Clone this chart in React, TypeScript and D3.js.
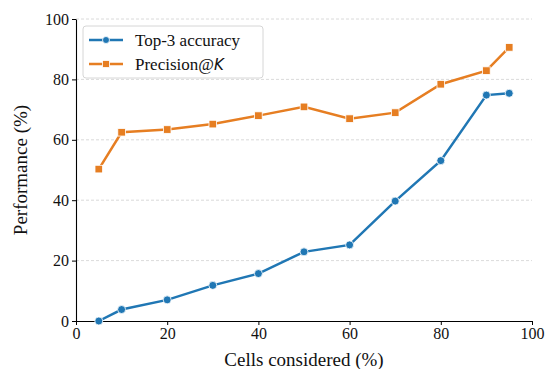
import { useEffect, useRef } from 'react';
import * as d3 from 'd3';

const cells = [5, 10, 20, 30, 40, 50, 60, 70, 80, 90, 95];
const top3Accuracy = [0, 3.8, 7, 11.8, 15.7, 22.9, 25.2, 39.7, 53.1, 74.8, 75.4];
const precisionAtK = [50.3, 62.5, 63.4, 65.2, 68, 70.9, 67, 69, 78.4, 82.9, 90.6];
const xTicks = [0, 20, 40, 60, 80, 100];
const yTicks = [0, 20, 40, 60, 80, 100];

const BLUE = '#2077b4';
const ORANGE = '#e67e22';
const FONT = 'Liberation Serif';

export default function App() {
    const svgRef = useRef<SVGSVGElement>(null);

    useEffect(() => {
        if (!svgRef.current) return;
        const root = d3.select(svgRef.current);
        root.selectAll('*').remove();

        const margin = { top: 19, right: 18, bottom: 48, left: 76 };
        const W = 550, H = 369;
        const width = W - margin.left - margin.right;
        const height = H - margin.top - margin.bottom;

        const svg = root.append('g')
            .attr('transform', `translate(${margin.left},${margin.top})`)
            .attr('font-family', FONT);

        const x = d3.scaleLinear().domain([0, 100]).range([0, width]);
        const y = d3.scaleLinear().domain([0, 100]).range([height, 0]);

        // Grid lines
        svg.append('g')
            .selectAll('line')
            .data(yTicks.filter(t => t > 0))
            .enter()
            .append('line')
            .attr('x1', 0)
            .attr('x2', width)
            .attr('y1', d => y(d))
            .attr('y2', d => y(d))
            .attr('stroke', '#d0d0d0')
            .attr('stroke-width', 0.8)
            .attr('stroke-dasharray', '3,2');

        // Axes
        const xAxis = svg.append('g')
            .attr('transform', `translate(0,${height})`)
            .call(d3.axisBottom(x).tickValues(xTicks).tickSize(4).tickPadding(3).tickSizeOuter(0));
        const yAxis = svg.append('g')
            .call(d3.axisLeft(y).tickValues(yTicks).tickSize(4).tickPadding(3).tickSizeOuter(0));

        [xAxis, yAxis].forEach(a => {
            a.attr('font-family', FONT).attr('font-size', 16);
            a.select('.domain').attr('stroke', '#000').attr('stroke-width', 1.1);
            a.selectAll('line').attr('stroke', '#000').attr('stroke-width', 1);
            a.selectAll('text').attr('fill', '#111');
        });

        // Axis labels
        svg.append('text')
            .attr('x', width / 2)
            .attr('y', height + 45)
            .attr('text-anchor', 'middle')
            .attr('font-size', 19)
            .attr('fill', '#111')
            .text('Cells considered (%)');

        svg.append('text')
            .attr('transform', `translate(${-49},${height / 2}) rotate(-90)`)
            .attr('text-anchor', 'middle')
            .attr('font-size', 19)
            .attr('fill', '#111')
            .text('Performance (%)');

        const line = d3.line<number>()
            .x((d, i) => x(cells[i]))
            .y(d => y(d));

        // Top-3 accuracy
        svg.append('path')
            .datum(top3Accuracy)
            .attr('fill', 'none')
            .attr('stroke', BLUE)
            .attr('stroke-width', 2.5)
            .attr('d', line);
        svg.selectAll('.dot')
            .data(top3Accuracy)
            .enter()
            .append('circle')
            .attr('cx', (d, i) => x(cells[i]))
            .attr('cy', d => y(d))
            .attr('r', 4)
            .attr('fill', BLUE)
            .attr('stroke', '#fff')
            .attr('stroke-width', 0.8);

        // Precision@K
        svg.append('path')
            .datum(precisionAtK)
            .attr('fill', 'none')
            .attr('stroke', ORANGE)
            .attr('stroke-width', 2.5)
            .attr('d', line);
        svg.selectAll('.sq')
            .data(precisionAtK)
            .enter()
            .append('rect')
            .attr('x', (d, i) => x(cells[i]) - 3.8)
            .attr('y', d => y(d) - 3.8)
            .attr('width', 7.6)
            .attr('height', 7.6)
            .attr('fill', ORANGE)
            .attr('stroke', '#fff')
            .attr('stroke-width', 0.8);

        // Legend
        const legend = svg.append('g').attr('transform', 'translate(7,7)');
        legend.append('rect')
            .attr('width', 180)
            .attr('height', 52)
            .attr('rx', 3)
            .attr('fill', '#fff')
            .attr('fill-opacity', 0.8)
            .attr('stroke', '#d6d6d6')
            .attr('stroke-width', 1);

        const items = [
            { label: 'Top-3 accuracy', color: BLUE, shape: 'circle' },
            { label: 'Precision@', italic: 'K', color: ORANGE, shape: 'square' },
        ];
        items.forEach((it, i) => {
            const cy = 14 + i * 24;
            const g = legend.append('g').attr('transform', `translate(0,${cy})`);
            g.append('line')
                .attr('x1', 6).attr('x2', 40)
                .attr('y1', 0).attr('y2', 0)
                .attr('stroke', it.color)
                .attr('stroke-width', 2.5);
            if (it.shape === 'circle') {
                g.append('circle').attr('cx', 23).attr('cy', 0).attr('r', 3.5)
                    .attr('fill', it.color).attr('stroke', '#fff').attr('stroke-width', 0.8);
            } else {
                g.append('rect').attr('x', 19.5).attr('y', -3.5).attr('width', 7).attr('height', 7)
                    .attr('fill', it.color).attr('stroke', '#fff').attr('stroke-width', 0.8);
            }
            const t = g.append('text')
                .attr('x', 52)
                .attr('y', 5.5)
                .attr('font-size', 17)
                .attr('fill', '#111')
                .text(it.label);
            if (it.italic) {
                t.append('tspan')
                    .attr('font-family', 'DejaVu Sans')
                    .attr('font-style', 'italic')
                    .attr('font-size', 15)
                    .text(it.italic);
            }
        });
    }, []);

    return (
        <div style={{ position: 'fixed', top: 0, left: 0, width: 550, height: 369 }}>
            <svg ref={svgRef} width={550} height={369} style={{ display: 'block', background: '#fff' }} />
        </div>
    );
}
